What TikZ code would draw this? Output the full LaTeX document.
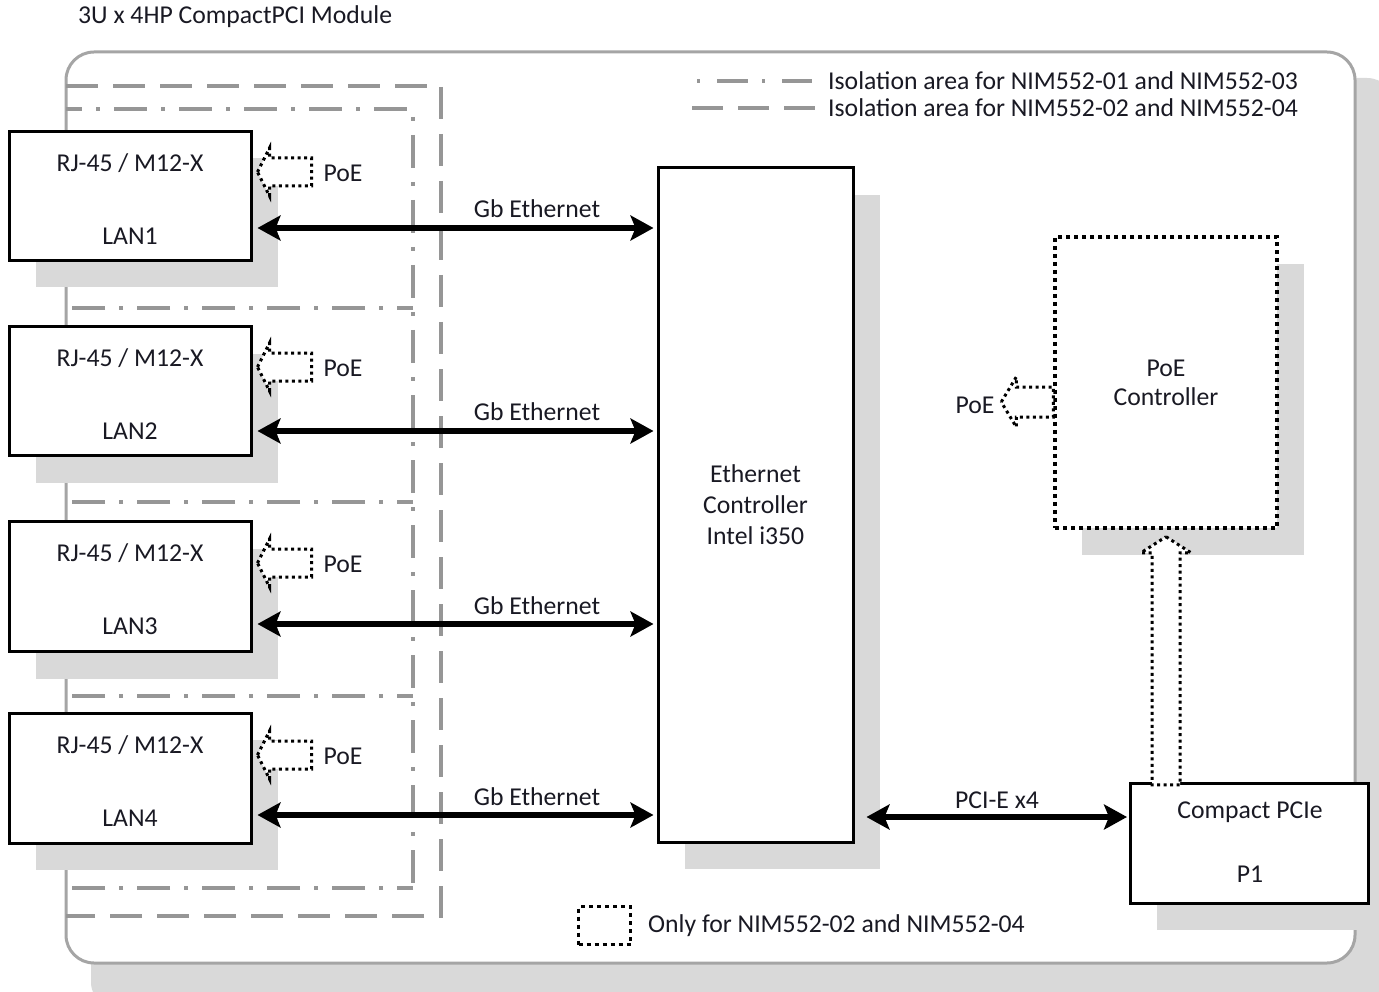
\documentclass[tikz,border=0pt]{standalone}
\usepackage{fontspec}
\setmainfont{Carlito}
\usetikzlibrary{arrows.meta,shadows,calc}
\definecolor{shd}{RGB}{217,217,217}
\definecolor{isog}{RGB}{150,150,150}
\definecolor{modg}{RGB}{165,165,165}
\definecolor{txtc}{RGB}{25,25,35}
\tikzset{
  txt/.style={text=txtc,font=\fontsize{25.7}{30}\selectfont,inner sep=0pt},
  blk/.style={draw=black,line width=3pt,fill=white,inner sep=0pt},
  boxshadow/.style={drop shadow={fill=shd,opacity=1,shadow xshift=27pt,shadow yshift=-27pt}},
  isodash/.style={draw=isog,line width=4pt,dash pattern=on 32pt off 15pt},
  isodot/.style={draw=isog,line width=4pt,dash pattern=on 33pt off 14pt on 4pt off 14pt,dash phase=17pt},
  dotline/.style={draw=black,line width=3pt,dash pattern=on 3pt off 3.5pt},
  dotbox/.style={draw=black,line width=3.5pt,dash pattern=on 4pt off 4pt,fill=white,inner sep=0pt},
  biarrow/.style={draw=black,line width=5.5pt,{Stealth[length=23pt,width=25pt,inset=5pt]}-{Stealth[length=23pt,width=25pt,inset=5pt]}},
  poel/.pic={\draw[dotline,fill=white] (0,0) -- (12,-24) -- (12,-14) -- (54,-14) -- (54,14) -- (12,14) -- (12,24) -- cycle;},
  poelc/.pic={\draw[dotline,fill=white] (0,0) -- (15,-25) -- (15,-15) -- (52,-15) -- (52,15) -- (15,15) -- (15,25) -- cycle;},
  poeup/.pic={\draw[dotline,fill=white] (0,0) -- (25,16) -- (14,16) -- (14,248) -- (-14,248) -- (-14,16) -- (-25,16) -- cycle;}
}
\begin{document}
\begin{tikzpicture}[x=1pt,y=-1pt]
\useasboundingbox (0,0) rectangle (1379,992);
% module frame with shadow
\fill[shd,rounded corners=28pt] (91,78) rectangle (1395,1010);
\draw[modg,line width=3pt,fill=white,rounded corners=28pt] (66,52) rectangle (1355,963);
\node[txt,anchor=west] (title) at (78,17) {3U x 4HP CompactPCI Module};

% isolation areas
\draw[isodash] (66,86) -- (441,86) -- (441,916) -- (66,916);
\draw[isodot] (66,109) -- (413,109) -- (413,888);
\draw[isodot] (413,888) -- (66,888);
\draw[isodot] (413,308) -- (66,308);
\draw[isodot] (413,502) -- (66,502);
\draw[isodot] (413,696) -- (66,696);

% legend
\draw[isog,line width=4pt,dash pattern=on 3pt off 17pt on 31pt off 14pt] (697,81) -- (812,81);
\draw[isog,line width=4pt,dash pattern=on 31pt off 15pt] (692,108) -- (815,108);
\node[txt,anchor=west] (leg1) at (828,81) {Isolation area for NIM552-01 and NIM552-03};
\node[txt,anchor=west] (leg2) at (828,108) {Isolation area for NIM552-02 and NIM552-04};

% LAN boxes
\node[blk,boxshadow,minimum width=242pt,minimum height=129pt] (lan1) at (130,196) {};
\node[blk,boxshadow,minimum width=242pt,minimum height=129pt] (lan2) at (130,391) {};
\node[blk,boxshadow,minimum width=242pt,minimum height=130pt] (lan3) at (130,586.5) {};
\node[blk,boxshadow,minimum width=242pt,minimum height=130pt] (lan4) at (130,778) {};
\node[txt] (lan1a) at (130,163) {RJ-45 / M12-X};
\node[txt] (lan1b) at (130,236) {LAN1};
\node[txt] (lan2a) at (130,358) {RJ-45 / M12-X};
\node[txt] (lan2b) at (130,431) {LAN2};
\node[txt] (lan3a) at (130,553) {RJ-45 / M12-X};
\node[txt] (lan3b) at (130,626) {LAN3};
\node[txt] (lan4a) at (130,745) {RJ-45 / M12-X};
\node[txt] (lan4b) at (130,818) {LAN4};

% PoE hollow arrows at LAN ports
\pic at ($(lan1.east |- 0,172)+(5,0)$) {poel};
\pic at ($(lan2.east |- 0,367)+(5,0)$) {poel};
\pic at ($(lan3.east |- 0,563)+(5,0)$) {poel};
\pic at ($(lan4.east |- 0,755)+(5,0)$) {poel};
\node[txt] (poe1) at (343,173) {PoE};
\node[txt] (poe2) at (343,368) {PoE};
\node[txt] (poe3) at (343,564) {PoE};
\node[txt] (poe4) at (343,756) {PoE};

% Ethernet controller
\node[blk,boxshadow,minimum width=195pt,minimum height=674pt,align=center,
      font=\fontsize{25.7}{31}\selectfont,text=txtc] (eth) at (755.5,505) {Ethernet\\Controller\\Intel i350};

% Gb Ethernet links
\coordinate (g1) at (lan1.east |- 0,228);
\coordinate (g2) at (lan2.east |- 0,431);
\coordinate (g3) at (lan3.east |- 0,624);
\coordinate (g4) at (lan4.east |- 0,815);
\draw[biarrow,shorten <=5pt,shorten >=3pt] (g1) -- (g1 -| eth.west);
\draw[biarrow,shorten <=5pt,shorten >=3pt] (g2) -- (g2 -| eth.west);
\draw[biarrow,shorten <=5pt,shorten >=3pt] (g3) -- (g3 -| eth.west);
\draw[biarrow,shorten <=5pt,shorten >=3pt] (g4) -- (g4 -| eth.west);
\node[txt] (gb1) at (537,209) {Gb Ethernet};
\node[txt] (gb2) at (537,412) {Gb Ethernet};
\node[txt] (gb3) at (537,606) {Gb Ethernet};
\node[txt] (gb4) at (537,797) {Gb Ethernet};

% PoE controller
\node[dotbox,boxshadow,minimum width=222pt,minimum height=291pt,align=center,
      font=\fontsize{25.7}{29}\selectfont,text=txtc] (poec) at (1166,382.5) {PoE\\Controller};
\pic at ($(poec.west)+(-52,19.5)$) {poelc};
\node[txt] (poec5) at (975,405) {PoE};

% Compact PCIe
\fill[shd] (1157,810) rectangle (1379,930);
\node[blk,minimum width=238pt,minimum height=120pt] (cpci) at (1249.5,843) {};
\node[txt] (cpcia) at (1250,812) {Compact PCIe};
\node[txt] (cpcib) at (1250,874) {P1};
\pic at ($(poec.south)+(0,7)$) {poeup};

% PCI-E link
\coordinate (pc) at (eth.east |- 0,817);
\draw[biarrow,shorten <=12pt,shorten >=2pt] (pc) -- (pc -| cpci.west);
\node[txt] (pcie) at (997,800) {PCI-E x4};

% bottom legend
\node[dotbox,minimum width=52pt,minimum height=38pt] (legbox) at (604.5,925.5) {};
\node[txt,anchor=west] (leg3) at (648,926) {Only for NIM552-02 and NIM552-04};
\end{tikzpicture}
\end{document}
